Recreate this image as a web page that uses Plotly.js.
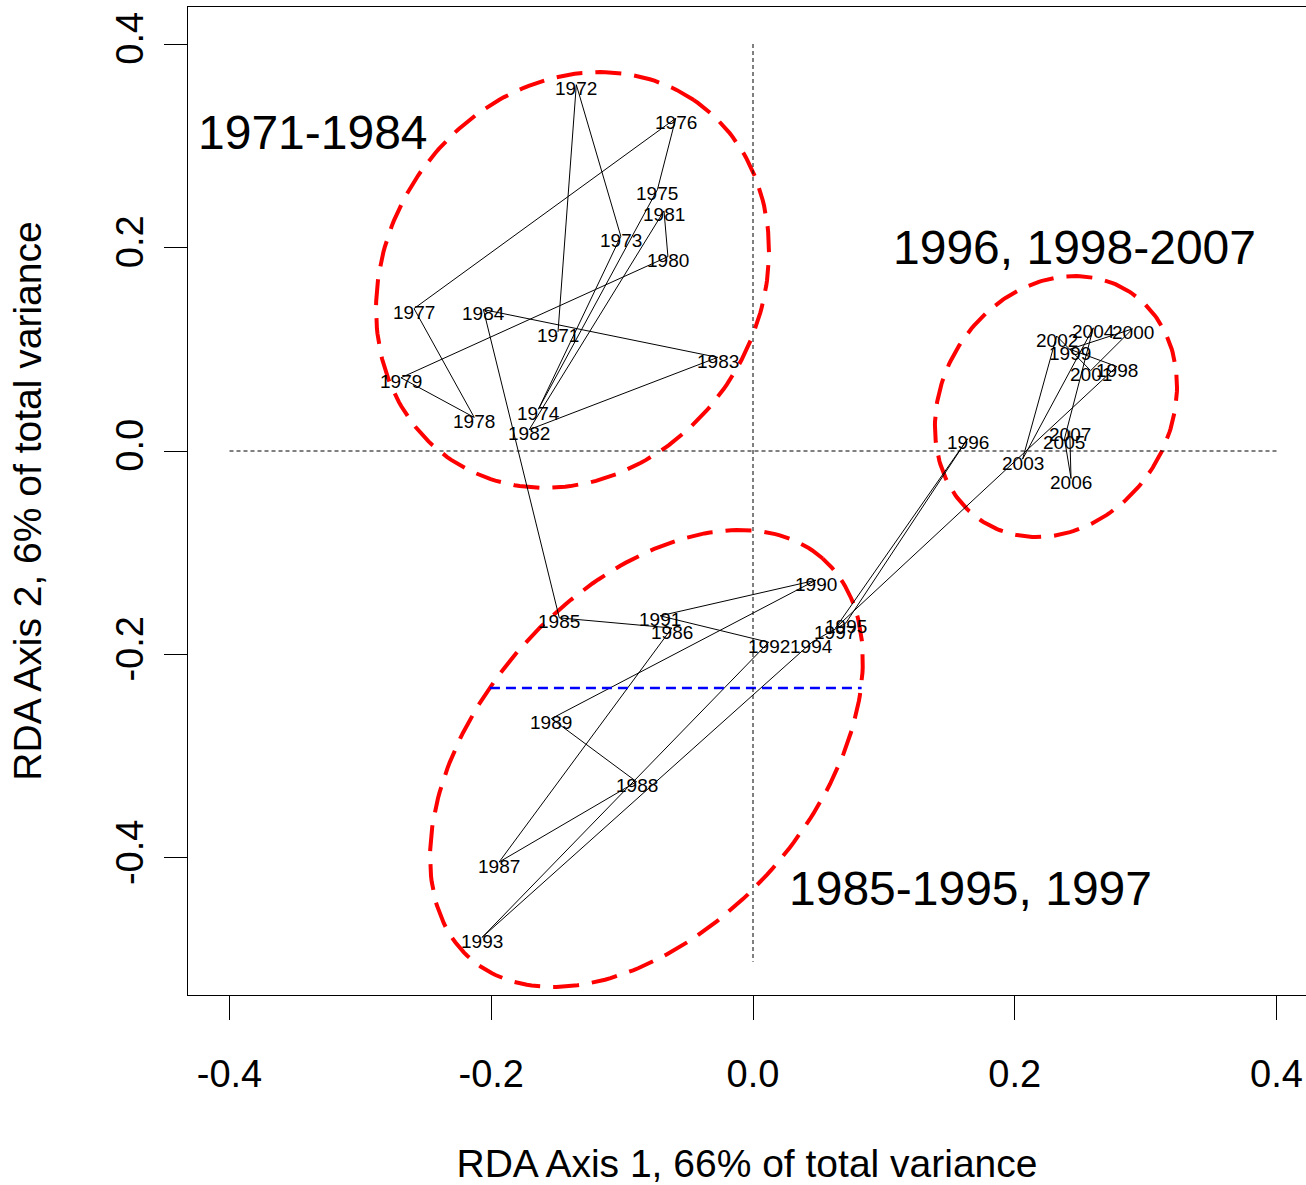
<!DOCTYPE html>
<html>
<head>
<meta charset="utf-8">
<script src="https://cdn.plot.ly/plotly-3.0.1.min.js"></script>
<style>html,body{margin:0;padding:0;background:#fff;}#chart{width:1306px;height:1185px;}</style>
</head>
<body>
<div id="chart"></div>
<script>
// ---- data: site scores (years) on RDA axes 1 and 2 ----
const years = ["1971","1972","1973","1974","1975","1976","1977","1978","1979","1980",
               "1981","1982","1983","1984","1985","1986","1987","1988","1989","1990",
               "1991","1992","1993","1994","1995","1996","1997","1998","1999","2000",
               "2001","2002","2003","2004","2005","2006","2007"];
const axis1 = [-0.149,-0.135,-0.101,-0.164,-0.073,-0.059,-0.259,-0.213,-0.269,-0.065,
               -0.068,-0.171,-0.027,-0.206,-0.148,-0.062,-0.194,-0.089,-0.154, 0.048,
               -0.071, 0.012,-0.207, 0.045, 0.071, 0.164, 0.063, 0.278, 0.242, 0.290,
                0.258, 0.232, 0.206, 0.260, 0.238, 0.243, 0.242];
const axis2 = [ 0.117, 0.360, 0.211, 0.041, 0.257, 0.327, 0.140, 0.033, 0.072, 0.191,
                0.236, 0.021, 0.092, 0.139,-0.164,-0.174,-0.404,-0.325,-0.263,-0.127,
               -0.162,-0.188,-0.478,-0.188,-0.169, 0.012,-0.174, 0.083, 0.100, 0.120,
                0.079, 0.113,-0.008, 0.121, 0.012,-0.027, 0.020];

// group labels
const groupText = ["1971-1984", "1996, 1998-2007", "1985-1995, 1997"];
const groupX = [-0.336, 0.246, 0.166];
const groupY = [0.313, 0.200, -0.430];

// group ellipses: centre and conjugate semi-diameters (data units)
const ellCx = [-0.1379, 0.2315, -0.0814];
const ellCy = [ 0.1681, 0.0437, -0.3022];
const ellAx = [ 0.0927, 0.0555, 0.1347];
const ellAy = [ 0.1768, 0.1134, 0.1965];
const ellBx = [-0.1181,-0.0740,-0.0959];
const ellBy = [ 0.1024, 0.0599, 0.1088];

// blue break line
const breakX = [-0.201, 0.083];
const breakY = [-0.233, -0.233];

// ticks
const tickVals = [-0.4, -0.2, 0.0, 0.2, 0.4];
const tickText = ["-0.4", "-0.2", "0.0", "0.2", "0.4"];

const FONT = "Liberation Sans, Arial, Helvetica, sans-serif";

const traces = [];

// ellipses
for (let k = 0; k < ellCx.length; k++) {
  const ex = [], ey = [];
  for (let i = 0; i <= 240; i++) {
    const t = 2 * Math.PI * i / 240;
    ex.push(ellCx[k] + ellAx[k] * Math.cos(t) + ellBx[k] * Math.sin(t));
    ey.push(ellCy[k] + ellAy[k] * Math.cos(t) + ellBy[k] * Math.sin(t));
  }
  traces.push({x: ex, y: ey, mode: "lines", hoverinfo: "skip", showlegend: false,
               line: {color: "#ff0000", width: 4, dash: "26px,13px"}});
}

// trajectory
traces.push({x: axis1, y: axis2, mode: "lines", showlegend: false,
             line: {color: "#000000", width: 1}});

// blue dashed line
traces.push({x: breakX, y: breakY, mode: "lines", showlegend: false, hoverinfo: "skip",
             line: {color: "#0000ff", width: 2.5, dash: "10px,6px"}});

const annotations = years.map((yr, i) => ({
  x: axis1[i], y: axis2[i], xref: "x", yref: "y", text: yr, showarrow: false,
  xanchor: "center", yanchor: "middle", yshift: -4,
  font: {family: FONT, size: 19, color: "#000"}
}));
groupText.forEach((t, i) => annotations.push({
  x: groupX[i], y: groupY[i], xref: "x", yref: "y", text: t, showarrow: false,
  xanchor: "center", yanchor: "middle",
  font: {family: FONT, size: 48, color: "#000"}
}));

const shapes = [
  {type: "line", xref: "x", yref: "y", x0: -0.4, x1: 0.4, y0: 0, y1: 0,
   line: {color: "#000", width: 1, dash: "4px,3px"}},
  {type: "line", xref: "x", yref: "y", x0: 0, x1: 0, y0: 0.4, y1: -0.502,
   line: {color: "#000", width: 1, dash: "4px,3px"}}
];

const layout = {
  width: 1306, height: 1185,
  margin: {l: 188, r: 0, t: 7, b: 190},
  paper_bgcolor: "#fff", plot_bgcolor: "#fff",
  showlegend: false,
  font: {family: FONT, color: "#000"},
  xaxis: {
    range: [-0.43171, 0.42254], showgrid: false, zeroline: false,
    showline: true, linecolor: "#000", linewidth: 1, mirror: true,
    ticks: "outside", ticklen: 24, tickwidth: 1, tickcolor: "#000",
    tickvals: tickVals, ticktext: tickText, ticklabelstandoff: 21,
    tickfont: {family: FONT, size: 38, color: "#000"},
    title: {text: "RDA Axis 1, 66% of total variance", standoff: 70,
            font: {family: FONT, size: 39, color: "#000"}}
  },
  yaxis: {
    range: [-0.53465, 0.43636], showgrid: false, zeroline: false,
    showline: true, linecolor: "#000", linewidth: 1, mirror: false,
    ticks: "outside", ticklen: 23, tickwidth: 1, tickcolor: "#000",
    tickvals: tickVals, ticktext: tickText, tickangle: -90, ticklabelstandoff: 6,
    tickfont: {family: FONT, size: 38, color: "#000"},
    title: {text: "RDA Axis 2, 6% of total variance", standoff: 55,
            font: {family: FONT, size: 39, color: "#000"}}
  },
  annotations: annotations,
  shapes: shapes
};

Plotly.newPlot("chart", traces, layout, {displayModeBar: false, staticPlot: true});
</script>
</body>
</html>
